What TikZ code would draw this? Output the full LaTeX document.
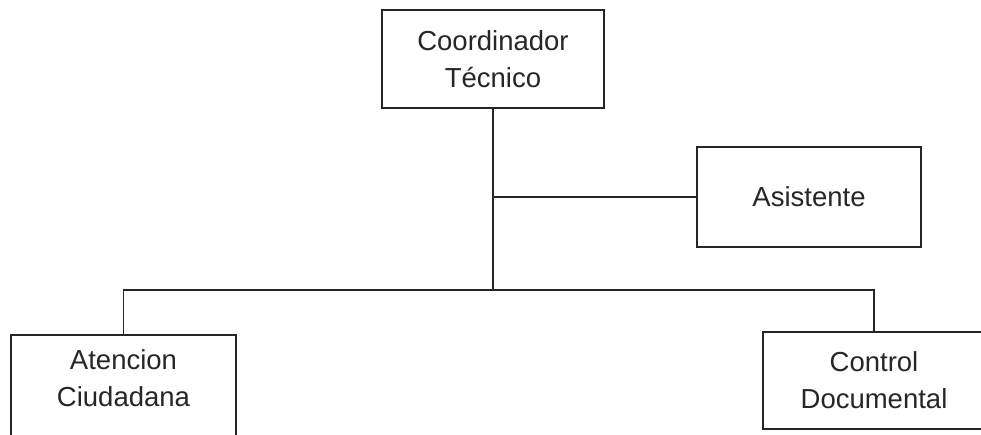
\documentclass[tikz,border=0pt]{standalone}
\usepackage{fontspec}
\setmainfont{Liberation Sans}
\usetikzlibrary{calc}
\begin{document}
\begin{tikzpicture}[x=1pt,y=-1pt,
  unit/.style={draw=black!85,line width=1.8pt,fill=white,align=center,
    font=\fontsize{27.5}{37}\selectfont,text=black!85,inner sep=0pt},
  link/.style={draw=black!85,line width=1.8pt}]
\useasboundingbox[fill=white] (0,0) rectangle (981,434);
% head of the unit
\node[unit,minimum width=222pt,minimum height=98pt] (coord) at (493,59) {Coordinador\\Técnico};
% staff position beside the main line
\node[unit,minimum width=224pt,minimum height=100pt] (asist) at (809,197) {Asistente};
% lower units
\node[unit,draw=none,minimum width=223pt,minimum height=84pt] (aten) at (123.5,378) {Atencion\\Ciudadana};
\draw[link] ($(aten.south west)+(0,30)$) |- (aten.north east) -- ($(aten.south east)+(0,30)$);
\node[unit,minimum width=222pt,minimum height=97pt] (ctrl) at (874,380.5) {Control\\Documental};
% connectors
\coordinate (bus) at (coord.south |- 0,290);
\draw[link] (coord.south) -- (bus);
\draw[link] (coord.south |- asist.west) -- (asist.west);
\draw[link] (aten.north) |- (bus) -| (ctrl.north);
\end{tikzpicture}
\end{document}
